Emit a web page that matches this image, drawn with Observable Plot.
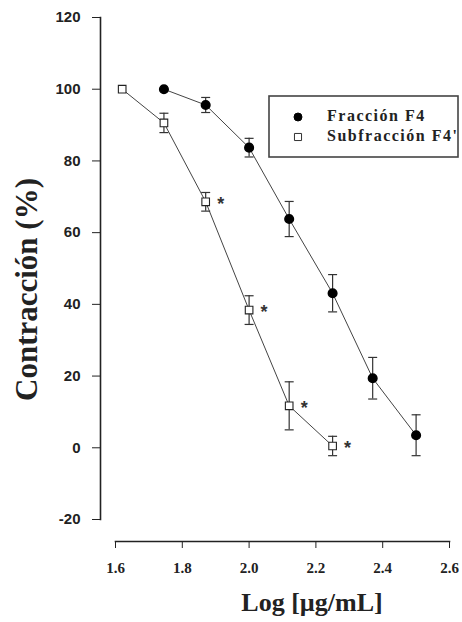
<!DOCTYPE html>
<html><head><meta charset="utf-8">
<script src="https://cdn.jsdelivr.net/npm/d3@7"></script>
<script src="https://cdn.jsdelivr.net/npm/@observablehq/plot@0.6"></script>
<style>
body{margin:0;background:#fff;}
#wrap{position:relative;width:462px;height:622px;}
#legend{position:absolute;left:268px;top:95px;}
</style></head><body><div id="wrap"></div>
<script>
// ---- data ----
const seriesNames = ["Fracción F4", "Subfracción F4'"];
const f4X   = [1.745, 1.87, 2.0, 2.12, 2.25, 2.37, 2.5];
const f4Y   = [100, 95.6, 83.7, 63.8, 43.1, 19.4, 3.5];
const f4Err = [0, 2.1, 2.6, 4.9, 5.2, 5.8, 5.7];
const f4pX   = [1.62, 1.745, 1.87, 2.0, 2.12, 2.25];
const f4pY   = [100, 90.6, 68.6, 38.4, 11.7, 0.5];
const f4pErr = [0, 2.7, 2.6, 4.0, 6.7, 2.7];
const f4pSig = ["", "", "*", "*", "*", "*"];
const xTicks = [1.6, 1.8, 2.0, 2.2, 2.4, 2.6];
const yTicks = [-20, 0, 20, 40, 60, 80, 100, 120];
const xTitle = "Log [µg/mL]";
const yTitle = "Contracción (%)";

const rows = [];
f4X.forEach((x, i) => rows.push({series: seriesNames[0], x, y: f4Y[i], err: f4Err[i], sig: ""}));
f4pX.forEach((x, i) => rows.push({series: seriesNames[1], x, y: f4pY[i], err: f4pErr[i], sig: f4pSig[i]}));
const errRows = rows.filter(d => d.err > 0);
const capRows = errRows.flatMap(d => [{x: d.x, y: d.y - d.err}, {x: d.x, y: d.y + d.err}]);

const serif = "'Liberation Serif','Times New Roman',serif";
const sans = "'Liberation Sans',Arial,sans-serif";
const ink = "#222";

const capSymbol = {draw(ctx, size) { const r = Math.sqrt(size / Math.PI); ctx.moveTo(-r, 0); ctx.lineTo(r, 0); }};

const chart = Plot.plot({
  width: 462, height: 622,
  marginLeft: 100, marginRight: 13, marginTop: 17, marginBottom: 81,
  x: {domain: [1.6, 2.6], insetLeft: 15},
  y: {domain: [-20, 120], insetBottom: 22},
  marks: [
    Plot.frame({anchor: "left", insetBottom: 22, stroke: ink, strokeWidth: 1.6}),
    Plot.frame({anchor: "bottom", insetLeft: 15, stroke: ink, strokeWidth: 1.6}),
    Plot.axisY(yTicks, {tickSize: 8, tickPadding: 12, stroke: ink, fill: ink, fontSize: 15, fontWeight: "bold", fontFamily: sans, label: null, tickFormat: d => String(d)}),
    Plot.axisX(xTicks, {tickSize: 7, tickPadding: 14, stroke: ink, fill: ink, fontSize: 15, fontWeight: "bold", fontFamily: serif, label: null, tickFormat: d => d.toFixed(1)}),
    Plot.text([xTitle], {frameAnchor: "bottom", text: d => d, textAnchor: "middle", dx: 37, dy: 69, lineAnchor: "bottom", fontSize: 26, fontWeight: "bold", fontFamily: serif, fill: ink}),
    Plot.text([yTitle], {frameAnchor: "left", text: d => d, textAnchor: "middle", rotate: -90, dx: -73, dy: 10, lineAnchor: "middle", fontSize: 31, fontWeight: "bold", fontFamily: serif, fill: ink}),
    Plot.line(rows, {x: "x", y: "y", z: "series", stroke: "#444", strokeWidth: 1}),
    Plot.ruleX(errRows, {x: "x", y1: d => d.y - d.err, y2: d => d.y + d.err, stroke: "#333", strokeWidth: 1.2}),
    Plot.dot(capRows, {x: "x", y: "y", symbol: capSymbol, r: 4.5, stroke: "#333", strokeWidth: 1.2, fill: "none"}),
    Plot.dot(rows.filter(d => d.series === seriesNames[0]), {x: "x", y: "y", r: 4.3, fill: "#000", stroke: "#000"}),
    Plot.dot(rows.filter(d => d.series === seriesNames[1]), {x: "x", y: "y", symbol: "square", r: 4.3, fill: "#fff", stroke: "#222", strokeWidth: 1.1}),
    Plot.text(rows.filter(d => d.sig), {x: "x", y: "y", text: "sig", dx: 15, dy: 2, fontSize: 18, fontWeight: "bold", fontFamily: sans, fill: "#333"})
  ]
});
document.getElementById("wrap").appendChild(chart);
// make sure the x tick labels use the serif face, as in the original
d3.select(chart).selectAll("text").filter(function() { return xTicks.map(t => t.toFixed(1)).includes(this.textContent); })
  .style("font-family", serif);

// legend (inside the plot area, top right)
const leg = d3.select("#wrap").append("svg").attr("id", "legend").attr("width", 192).attr("height", 64);
leg.append("rect").attr("x", 1).attr("y", 1).attr("width", 189).attr("height", 61).attr("fill", "#fff").attr("stroke", "#444").attr("stroke-width", 1.6);
const symbols = [d3.symbolCircle, d3.symbolSquare];
seriesNames.forEach((name, i) => {
  const g = leg.append("g").attr("transform", `translate(0,${i * 20})`);
  g.append("path").attr("transform", "translate(30,22)").attr("d", d3.symbol(symbols[i], 50)())
    .attr("fill", i === 0 ? "#000" : "#fff").attr("stroke", i === 0 ? "#000" : "#333").attr("stroke-width", 1);
  g.append("text").attr("x", 59).attr("y", 26).text(name)
    .attr("font-family", serif).attr("font-weight", "bold").attr("font-size", 16).attr("letter-spacing", "1.5px").attr("fill", ink);
});
</script></body></html>
